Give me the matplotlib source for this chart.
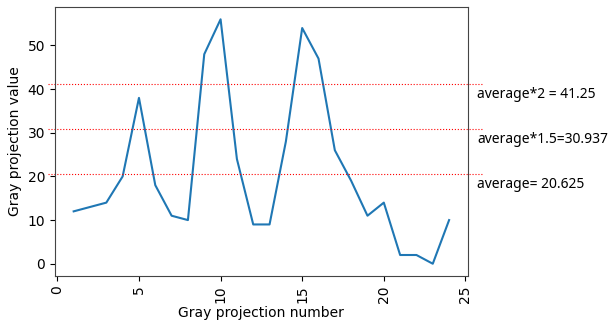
import matplotlib
matplotlib.use('Agg')
import matplotlib.pyplot as plt

numbers = list(range(1, 25))
values = [12, 13, 14, 20, 38, 18, 11, 10, 48, 56, 24, 9, 9, 28, 54, 47, 26, 19, 11, 14, 2, 2, 0, 10]

average = sum(values) / len(values)
levels = [average * 2, average * 1.5, average]
labels = ['average*2 = 41.25', 'average*1.5=30.937', 'average= 20.625']

fig = plt.figure(figsize=(6.1, 3.22), dpi=100)
ax = fig.add_axes([0.09, 0.143, 0.677, 0.835])
ax.plot(numbers, values, color='#1f77b4', lw=1.5)

# threshold lines run a bit past both spines, labels sit just under them
trans = ax.get_yaxis_transform()
for lvl, txt in zip(levels, labels):
    ax.plot([-0.017, 1.036], [lvl, lvl], color='red', ls=':', lw=0.8,
            clip_on=False, transform=trans)
    ax.text(1.022, lvl - 2.4, txt, fontsize=10, va='center', ha='left',
            transform=trans, family=['Noto Sans', 'DejaVu Sans'])

ax.set_xlabel('Gray projection number', labelpad=2)
ax.set_ylabel('Gray projection value')
ax.tick_params(axis='x', labelrotation=90)
for spine in ax.spines.values():
    spine.set_color('#444444')

fig.savefig('out.png', dpi=100)
